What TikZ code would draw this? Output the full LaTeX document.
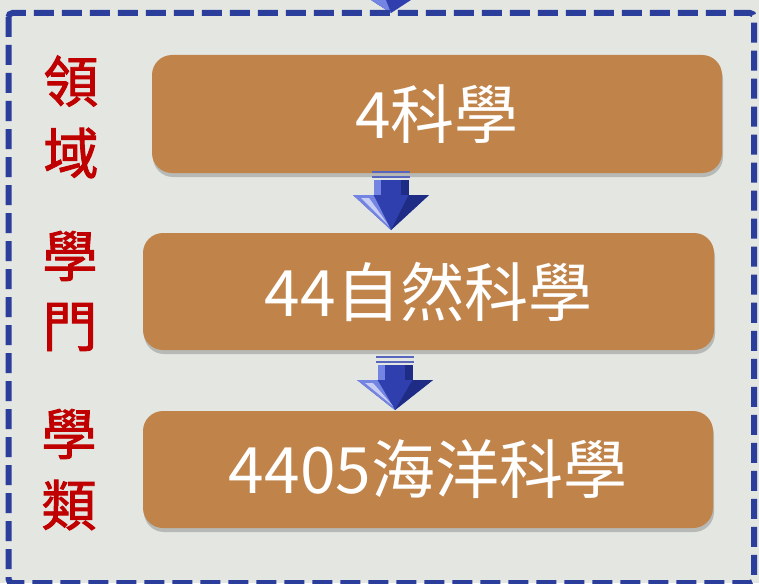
\documentclass[tikz,border=0pt]{standalone}
\usepackage{fontspec}
\newfontfamily\cjk{Noto Sans CJK TC}
\newfontfamily\cjkb[FakeBold=1.6]{Noto Sans CJK TC}
\usetikzlibrary{shadows}
\definecolor{bgc}{HTML}{E3E6E1}
\definecolor{boxc}{HTML}{C0834A}
\definecolor{dashc}{HTML}{2B3E9C}
\definecolor{arrc}{HTML}{2F40AE}
\definecolor{arrlight}{HTML}{7484E2}
\definecolor{arrdark}{HTML}{1E2C86}
\definecolor{labc}{HTML}{C00000}
\tikzset{
  stepbox/.style={rectangle, rounded corners=20pt, fill=boxc, draw=none,
    text=white, font=\cjk\fontsize{64}{64}\selectfont, inner sep=0pt,
    drop shadow={shadow xshift=1pt, shadow yshift=-4pt, opacity=0.35, fill=black!60}},
  sidelab/.style={text=labc, font=\cjkb\fontsize{55}{55}\selectfont, inner sep=0pt},
  frame/.style={draw=dashc, line width=6pt, dash pattern=on 20pt off 8pt, rounded corners=4pt},
  pic arrow/.pic={
    % double lines
    \fill[arrc!80] (-19,-24) rectangle (19,-22);
    \fill[arrc!80] (-19,-19) rectangle (19,-17);
    % shaft
    \fill[arrc] (-17.5,-15) rectangle (17.5,0);
    \fill[arrlight] (-17.5,-15) -- (-10,-15) -- (-10,0) -- (-17.5,0) -- cycle;
    \fill[arrdark] (10,-15) rectangle (17.5,0);
    % head
    \fill[arrc] (-38,0) -- (38,0) -- (0,\tikzpictipy) -- cycle;
    \fill[arrlight] (-38,0) -- (-17.5,0) -- (0,\tikzpictipy) -- cycle;
    \fill[white,opacity=0.6] (-30,3) -- (-22,3) -- (-2,\tikzpictipy-4) -- cycle;
    \fill[arrdark] (38,0) -- (17.5,0) -- (0,\tikzpictipy) -- cycle;
    \fill[arrc] (-17.5,0) -- (17.5,0) -- (0,\tikzpictipy*0.75) -- cycle;
  }
}
\def\tikzpictipy{34}
\begin{document}
\begin{tikzpicture}[x=1pt,y=-1pt]
\useasboundingbox (0,0) rectangle (759,583);
\fill[bgc] (0,0) rectangle (759,583);
% incoming arrow tip at top
\fill[arrc] (368,-2) -- (414,-2) -- (391,13) -- cycle;
\fill[arrlight] (368,-2) -- (385,-2) -- (391,13) -- cycle;
% frame
\draw[frame] (8.5,13) rectangle (754,583);
% boxes
\node[stepbox, minimum width=570pt, minimum height=118pt] (b1) at (437,114) {4科學};
\node[stepbox, minimum width=571pt, minimum height=117pt] (b2) at (428.5,291.5) {44自然科學};
\node[stepbox, minimum width=570pt, minimum height=117pt] (b3) at (428,469.5) {4405海洋科學};
% arrows between boxes
\coordinate (a1) at (391,195);
\coordinate (a2) at (395,380);
\def\tikzpictipy{35}
\pic at (a1) {pic arrow};
\def\tikzpictipy{30}
\pic at (a2) {pic arrow};
% side labels
\node[sidelab] (l1) at (71,81) {領};
\node[sidelab] (l2) at (71,153) {域};
\node[sidelab] (l3) at (70,256) {學};
\node[sidelab] (l4) at (70,327) {門};
\node[sidelab] (l5) at (69,434) {學};
\node[sidelab] (l6) at (69,505) {類};
\end{tikzpicture}
\end{document}
